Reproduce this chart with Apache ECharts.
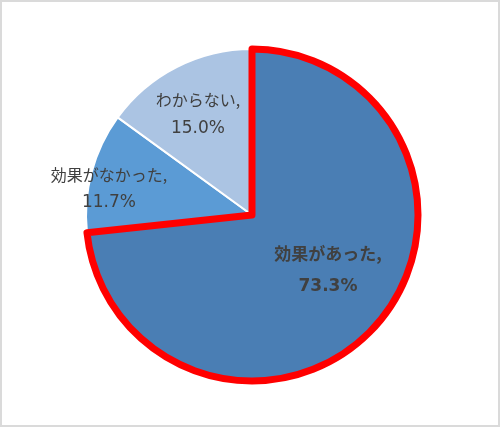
<!DOCTYPE html>
<html>
<head>
<meta charset="utf-8">
<script src="https://cdn.jsdelivr.net/npm/echarts@6/dist/echarts.min.js"></script>
<style>
  html, body { margin: 0; padding: 0; background: #fff; }
  #main { width: 500px; height: 427px; box-sizing: border-box; border: 2px solid #dadada; }
</style>
</head>
<body>
<div id="main"></div>
<script>
// 回答カテゴリと割合（%）
var categories = ['効果があった', '効果がなかった', 'わからない'];
var percents = [73.3, 11.7, 15.0];
var sliceColors = ['#4a7eb4', '#5b9bd5', '#abc4e3'];
// ラベル位置の微調整（inside からのずれ）
var labelOffsets = [[12, -2], [-60, -4], [-15, -24]];

var myChart = echarts.init(document.getElementById('main'));

var pieData = [];
var borderData = [];
for (var i = 0; i < categories.length; i++) {
	var big = (i == 0);
	pieData.push({
		name: categories[i],
		value: percents[i],
		itemStyle: { color: sliceColors[i] },
		label: { offset: labelOffsets[i] }
	});
	// 赤枠は上に重ねる
	borderData.push({
		name: categories[i],
		value: percents[i],
		itemStyle: big ? { color: 'rgba(0,0,0,0)', borderColor: '#ff0000', borderWidth: 7 }
			: { color: 'rgba(0,0,0,0)', borderWidth: 0 }
	});
}

var txt = '#404040';
var cjk = '"Noto Sans CJK JP", sans-serif';
var num = '"DejaVu Sans", sans-serif';

myChart.setOption({
	animation: false,
	series: [{
		type: 'pie',
		center: [250, 213],
		radius: 166,
		startAngle: 90,
		clockwise: true,
		silent: true,
		itemStyle: { borderColor: '#ffffff', borderWidth: 2 },
		label: {
			show: true,
			position: 'inside',
			color: txt,
			formatter: function(p) {
				var s = p.dataIndex == 0 ? ['bn', 'bv'] : ['n', 'v'];
				return '{' + s[0] + '|' + p.name + ',}\n{' + s[1] + '|' + p.value.toFixed(1) + '%}';
			},
			rich: {
				n: { fontFamily: cjk, fontSize: 16, color: txt, lineHeight: 28 },
				v: { fontFamily: num, fontSize: 17, color: txt, lineHeight: 28 },
				bn: { fontFamily: cjk, fontSize: 17, fontWeight: 'bold', color: txt, lineHeight: 33 },
				bv: { fontFamily: num, fontSize: 17, fontWeight: 'bold', color: txt, lineHeight: 33 }
			}
		},
		labelLine: { show: false },
		data: pieData
	}, {
		type: 'pie',
		center: [250, 213],
		radius: 166,
		startAngle: 90,
		clockwise: true,
		silent: true,
		z: 3,
		label: { show: false },
		labelLine: { show: false },
		data: borderData
	}]
});
</script>
</body>
</html>
